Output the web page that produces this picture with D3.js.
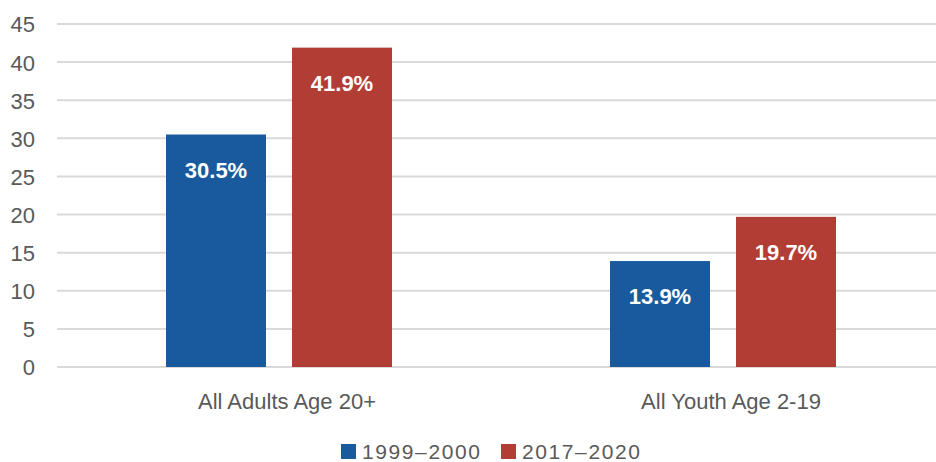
<!DOCTYPE html>
<html>
<head>
<meta charset="utf-8">
<script src="https://cdn.jsdelivr.net/npm/d3@7"></script>
<style>
  html, body { margin: 0; padding: 0; background: #fff; }
  svg { display: block; }
</style>
</head>
<body>
<svg id="chart" width="936" height="462"></svg>
<script>
const categories = ["All Adults Age 20+", "All Youth Age 2-19"];
const seriesNames = ["1999–2000", "2017–2020"];
const values1999 = [30.5, 13.9];
const values2017 = [41.9, 19.7];
const yTicks = [0, 5, 10, 15, 20, 25, 30, 35, 40, 45];
const colors = ["#185a9d", "#b23d35"];

(function () {
const svg = d3.select("#chart");
const W = 936, H = 462;
const mLeft = 57, mRight = 945, mTop = 24, mBottom = 367;

const x0 = d3.scaleBand().domain(categories).range([mLeft, mRight]).padding(0);
const x1 = d3.scaleBand().domain(seriesNames).range([0, 226]).paddingInner(26 / 126);
const y = d3.scaleLinear().domain([0, 45]).range([mBottom, mTop]);

// grid lines
svg.append("g").selectAll("line").data(yTicks).join("line")
  .attr("x1", mLeft).attr("x2", W)
  .attr("y1", d => y(d)).attr("y2", d => y(d))
  .attr("stroke", "#d9d9d9").attr("stroke-width", 2);

// y axis labels
const yAxis = d3.axisLeft(y).tickValues(yTicks).tickSize(0).tickPadding(0);
const gy = svg.append("g").attr("transform", "translate(35,0)").call(yAxis);
gy.select(".domain").remove();
gy.selectAll("text")
  .attr("font-family", "'Liberation Sans', Arial, sans-serif")
  .attr("font-size", 22).attr("fill", "#595959").attr("dy", "0.36em");

// data
const data = categories.map((c, i) => ({
  cat: c,
  vals: [{s: seriesNames[0], v: values1999[i], c: colors[0]},
         {s: seriesNames[1], v: values2017[i], c: colors[1]}]
}));

const groups = svg.append("g").selectAll("g").data(data).join("g")
  .attr("transform", d => `translate(${x0(d.cat) + x0.bandwidth() / 2 - 113},0)`);

groups.selectAll("rect").data(d => d.vals).join("rect")
  .attr("x", d => x1(d.s))
  .attr("width", x1.bandwidth())
  .attr("y", d => y(d.v))
  .attr("height", d => y(0) - y(d.v))
  .attr("fill", d => d.c);

groups.selectAll("text.val").data(d => d.vals).join("text")
  .attr("class", "val")
  .attr("x", d => x1(d.s) + x1.bandwidth() / 2)
  .attr("y", d => y(d.v) + 43)
  .attr("text-anchor", "middle")
  .attr("font-family", "'Liberation Sans', Arial, sans-serif")
  .attr("font-weight", "bold")
  .attr("font-size", 22)
  .attr("fill", "#fff")
  .text(d => d.v.toFixed(1) + "%");

// x axis labels
const xAxis = d3.axisBottom(x0).tickSize(0).tickPadding(0);
const gx = svg.append("g").attr("transform", `translate(8,${mBottom})`).call(xAxis);
gx.select(".domain").remove();
gx.selectAll("text")
  .attr("font-family", "'Liberation Sans', Arial, sans-serif")
  .attr("font-size", 22).attr("fill", "#595959")
  .attr("dy", null).attr("y", 42);

// legend
const legend = svg.append("g");
const legendX = [341, 501];
seriesNames.forEach((s, i) => {
  legend.append("rect").attr("x", legendX[i]).attr("y", 444)
    .attr("width", 15).attr("height", 15).attr("fill", colors[i]);
  legend.append("text").attr("x", legendX[i] + 21).attr("y", 459)
    .attr("font-family", "'Liberation Sans', Arial, sans-serif")
    .attr("font-size", 21).attr("letter-spacing", 1.6)
    .attr("fill", "#595959").text(s);
});
})();
</script>
</body>
</html>
